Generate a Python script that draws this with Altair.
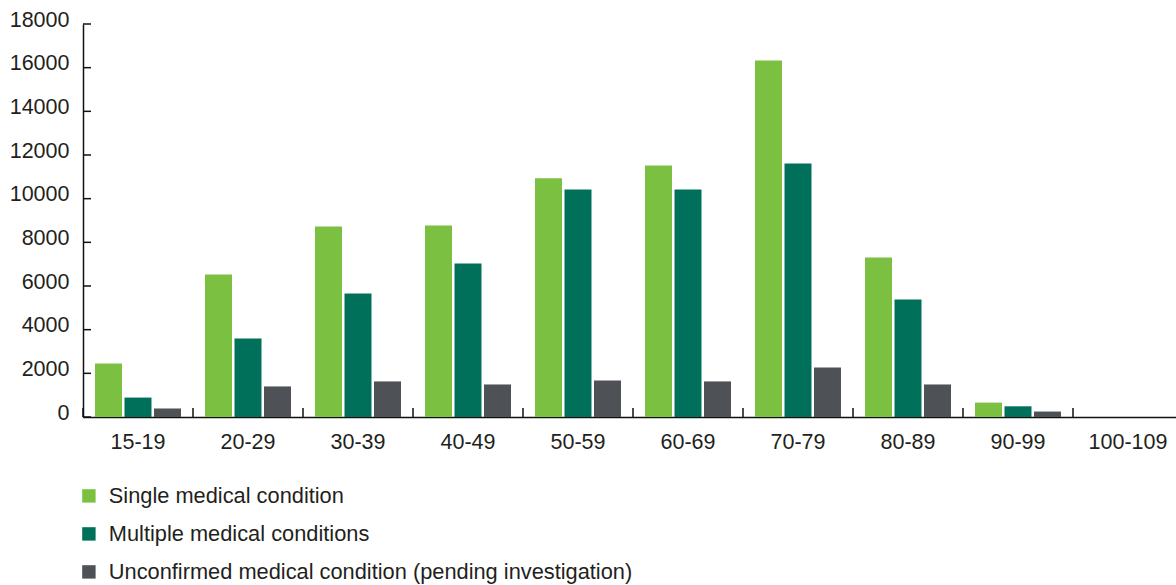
import altair as alt
import pandas as pd

ages = ["15-19", "20-29", "30-39", "40-49", "50-59", "60-69", "70-79", "80-89", "90-99", "100-109"]
series = ["Single medical condition", "Multiple medical conditions",
          "Unconfirmed medical condition (pending investigation)"]
single = [2450, 6530, 8730, 8770, 10930, 11520, 16330, 7310, 660, 0]
multiple = [890, 3600, 5660, 7030, 10420, 10420, 11610, 5380, 490, 0]
unconfirmed = [390, 1400, 1630, 1490, 1670, 1630, 2270, 1490, 250, 0]
y_ticks = [0, 2000, 4000, 6000, 8000, 10000, 12000, 14000, 16000, 18000]
colors = ["#7cc042", "#00705a", "#4e5256"]

rows = []
for name, vals in zip(series, [single, multiple, unconfirmed]):
    for a, v in zip(ages, vals):
        rows.append({"age": a, "series": name, "value": v})
df = pd.DataFrame(rows)

FONT = "Liberation Sans"
TXT = "#231f20"
W, H = 1093, 393

xscale = alt.Scale(domain=ages, range=[0, 1100], paddingInner=0, paddingOuter=0)

bars = alt.Chart(df).mark_bar().encode(
    x=alt.X("age:N", sort=ages, scale=xscale,
            axis=alt.Axis(title=None, ticks=False, tickSize=0, labelAngle=0,
                          labelFontSize=21.5, labelFont=FONT, labelColor=TXT,
                          labelPadding=14, domainColor="#111", domainWidth=1.5,
                          grid=False)),
    xOffset=alt.XOffset("series:N", sort=series,
                        scale=alt.Scale(paddingInner=0.085, paddingOuter=0.407)),
    y=alt.Y("value:Q", scale=alt.Scale(domain=[0, 18000], nice=False),
            axis=alt.Axis(title=None, values=y_ticks, ticks=False, tickSize=0,
                          labelFontSize=21.5, labelFont=FONT, labelColor=TXT,
                          labelPadding=14, labelBaseline="alphabetic", labelOffset=2,
                          domainColor="#111", domainWidth=1.5, grid=False, format="d")),
    color=alt.Color("series:N", sort=series,
                    scale=alt.Scale(domain=series, range=colors),
                    legend=alt.Legend(title=None, orient="none", legendX=-5, legendY=461,
                                      direction="vertical", symbolType="square",
                                      symbolSize=180, symbolStrokeWidth=0,
                                      labelFontSize=21.8, labelFont=FONT, labelColor=TXT,
                                      labelLimit=0, rowPadding=15, labelOffset=9)),
)

xt_df = pd.DataFrame({"age": ages})
xticks = alt.Chart(xt_df).mark_rule(color="#111", strokeWidth=1.5).encode(
    x=alt.X("age:N", sort=ages, bandPosition=0),
    y=alt.value(H - 9),
    y2=alt.value(H),
)

yt_df = pd.DataFrame({"v": y_ticks})
yticks = alt.Chart(yt_df).mark_rule(color="#111", strokeWidth=1.5).encode(
    y=alt.Y("v:Q"),
    x=alt.value(0),
    x2=alt.value(8),
)

chart = alt.layer(bars, xticks, yticks).properties(
    width=W, height=H,
    background="white",
    autosize=alt.AutoSizeParams(type="none"),
    padding={"left": 83, "top": 24, "right": 0, "bottom": 168},
).configure_view(stroke=None, strokeWidth=0).configure_axis(grid=False)

chart.save("out.html", embed_options={"renderer": "svg", "actions": False})
